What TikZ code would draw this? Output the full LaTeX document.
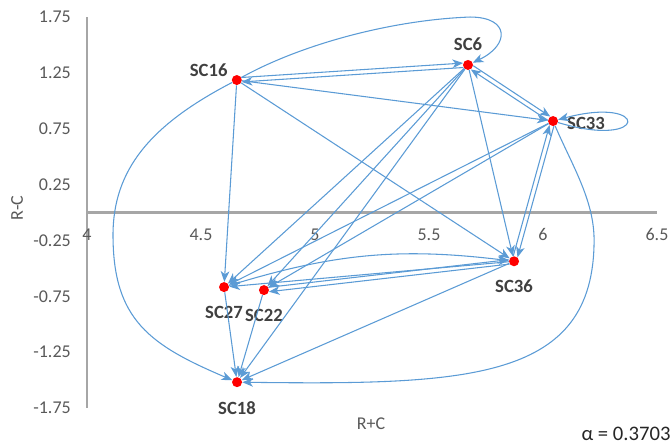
\documentclass[tikz,border=0pt]{standalone}
\usepackage{fontspec}
\setmainfont{Carlito}
\usetikzlibrary{arrows.meta,positioning}

\definecolor{linkblue}{RGB}{91,155,213}
\definecolor{axisgray}{RGB}{166,166,166}
\definecolor{tickgray}{RGB}{89,89,89}
\definecolor{labelgray}{RGB}{64,64,64}

\tikzset{
  dot/.style={circle, fill=red, minimum size=7.5pt, inner sep=0pt},
  lbl/.style={font=\fontsize{14}{16}\selectfont\bfseries, text=labelgray, inner sep=0pt},
  tick/.style={font=\fontsize{13.5}{16}\selectfont, text=tickgray, inner sep=0pt},
  axis/.style={draw=axisgray, line width=1.6pt},
  rel/.style={draw=linkblue, line width=0.8pt, -{Stealth[length=8pt,width=6.5pt,inset=2.3pt]}}
}

\begin{document}
\begin{tikzpicture}[x=171pt, y=83.8pt]
    \useasboundingbox (3.6184,-2.0994) rectangle (6.557,1.9024);

    % axes
    \draw[axis] (4,1.75) -- (4,-1.75);
    \draw[axis] (4,0) -- (6.5,0);

    \node[tick, anchor=east] (y175) at (3.93,1.75) {1.75};
    \node[tick, anchor=east] (y125) at (3.93,1.25) {1.25};
    \node[tick, anchor=east] (y075) at (3.93,0.75) {0.75};
    \node[tick, anchor=east] (y025) at (3.93,0.25) {0.25};
    \node[tick, anchor=east] (ym025) at (3.93,-0.25) {-0.25};
    \node[tick, anchor=east] (ym075) at (3.93,-0.75) {-0.75};
    \node[tick, anchor=east] (ym125) at (3.93,-1.25) {-1.25};
    \node[tick, anchor=east] (ym175) at (3.93,-1.75) {-1.75};

    \node[tick] (x40) at (4,-0.2) {4};
    \node[tick] (x45) at (4.5,-0.2) {4.5};
    \node[tick] (x50) at (5,-0.2) {5};
    \node[tick] (x55) at (5.5,-0.2) {5.5};
    \node[tick] (x60) at (6,-0.2) {6};
    \node[tick] (x65) at (6.5,-0.2) {6.5};

    \node[tick, rotate=90] (ytitle) at (3.693,0.04) {R-C};
    \node[tick] (xtitle) at (5.246,-1.889) {R+C};
    \node[tick, text=black!85, font=\fontsize{15.5}{18}\selectfont] (alph) at (6.364,-1.983) {α = 0.3703};

    % factors
    \node[dot] (n16) at (4.657,1.186) {};
    \node[dot] (n6) at (5.671,1.321) {};
    \node[dot] (n33) at (6.044,0.819) {};
    \node[dot] (n36) at (5.873,-0.436) {};
    \node[dot] (n27) at (4.601,-0.667) {};
    \node[dot] (n22) at (4.776,-0.694) {};
    \node[dot] (n18) at (4.658,-1.518) {};

    \node[lbl, above left=-0.5pt and 4pt of n16] (l16) {SC16};
    \node[lbl, above=6.3pt of n6] (l6) {SC6};
    \node[lbl, right=6.5pt of n33, yshift=-1.5pt] (l33) {SC33};
    \node[lbl, below=10pt of n36] (l36) {SC36};
    \node[lbl, below=10.5pt of n27] (l27) {SC27};
    \node[lbl, below=10pt of n22] (l22) {SC22};
    \node[lbl, below=10.5pt of n18] (l18) {SC18};

    % relations
    \draw[rel] (n16) .. controls (4.276,0.783) and (4.114,0.380) .. (4.114,-0.201)
        .. controls (4.114,-0.962) and (4.276,-1.186) .. (n18);
    \draw[rel] (n16) .. controls (4.934,1.500) and (5.329,1.723) .. (5.680,1.750)
        .. controls (5.855,1.750) and (5.855,1.500) .. (n6);
    \draw[rel] (n16.29) -- (n6.159);
    \draw[rel] (n6.209) -- (n16.339);
    \draw[rel] (n16) -- (n33);
    \draw[rel] (n16) -- (n36);
    \draw[rel] (n16) -- (n27);

    \draw[rel] (n6.352) -- (n33.122);
    \draw[rel] (n33.172) -- (n6.302);
    \draw[rel] (n6) -- (n36);
    \draw[rel] (n6) -- (n27);
    \draw[rel] (n6) -- (n22);
    \draw[rel] (n6) -- (n18);

    \draw[rel] (n33) .. controls (6.469,0.560) and (6.469,1.052) .. (n33);
    \draw[rel] (n33.279) -- (n36.49);
    \draw[rel] (n36.99) -- (n33.229);
    \draw[rel] (n33) -- (n27);
    \draw[rel] (n33) -- (n22);
    \draw[rel] (n33) .. controls (6.127,0.425) and (6.224,0.112) .. (6.224,-0.246)
        .. controls (6.224,-1.500) and (5.680,-1.544) .. (n18);

    \draw[rel] (n36.212) -- (n22.342);
    \draw[rel] (n22.32) -- (n36.162);
    \draw[rel] (n36) -- (n27);
    \draw[rel] (n36) -- (n18);
    \draw[rel] (n27) to[bend left=12] (n36);

    \draw[rel] (n27) -- (n18);
    \draw[rel] (n22) -- (n18);
\end{tikzpicture}
\end{document}
